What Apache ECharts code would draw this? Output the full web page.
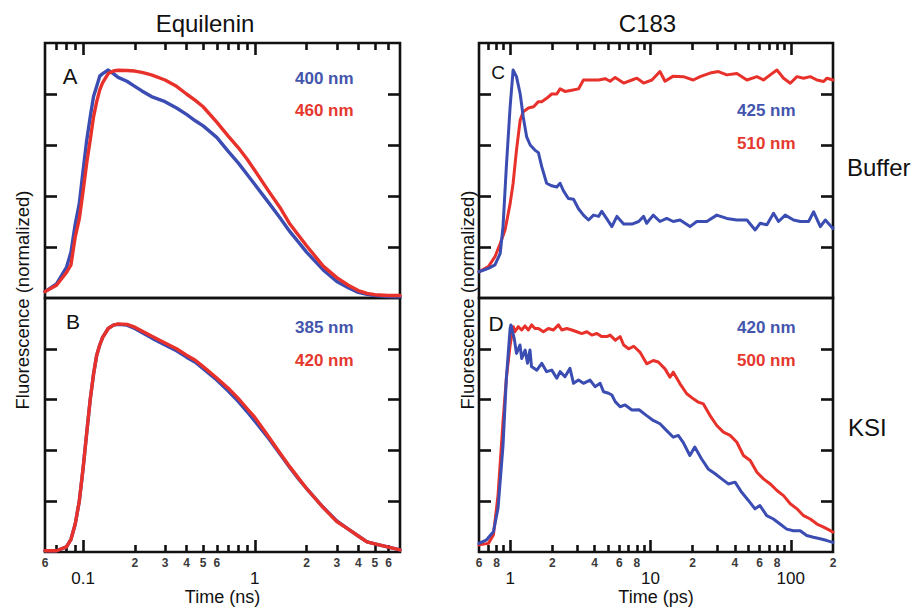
<!DOCTYPE html>
<html>
<head>
<meta charset="utf-8">
<script src="https://cdn.jsdelivr.net/npm/echarts@6/dist/echarts.min.js"></script>
<style>
html,body{margin:0;padding:0;background:#ffffff;}
#chart{width:917px;height:608px;}
</style>
</head>
<body>
<div id="chart"></div>
<script>
// ---------------- DATA ----------------
// Panel A / B (Equilenin) common time grid, ns
const tLeft = [0.06, 0.07, 0.08, 0.085, 0.09, 0.095, 0.1, 0.105, 0.11, 0.115, 0.12, 0.125, 0.13, 0.14, 0.15, 0.16, 0.18, 0.2, 0.22, 0.25, 0.3, 0.35, 0.4, 0.45, 0.5, 0.6, 0.7, 0.8, 0.9, 1.0, 1.2, 1.4, 1.6, 1.8, 2.0, 2.5, 3.0, 3.5, 4.0, 4.5, 5, 6, 7];
// Panel A, Buffer
const a400 = [0.025, 0.055, 0.12, 0.18, 0.29, 0.37, 0.50, 0.62, 0.71, 0.79, 0.83, 0.87, 0.88, 0.894, 0.88, 0.865, 0.85, 0.83, 0.812, 0.79, 0.77, 0.745, 0.72, 0.695, 0.675, 0.63, 0.575, 0.53, 0.485, 0.445, 0.375, 0.315, 0.26, 0.218, 0.18, 0.11, 0.065, 0.04, 0.022, 0.014, 0.01, 0.006, 0.005];
const a460 = [0.025, 0.05, 0.10, 0.13, 0.24, 0.31, 0.42, 0.53, 0.62, 0.71, 0.77, 0.816, 0.845, 0.88, 0.89, 0.893, 0.892, 0.89, 0.885, 0.875, 0.855, 0.83, 0.80, 0.775, 0.75, 0.69, 0.635, 0.59, 0.545, 0.50, 0.42, 0.355, 0.29, 0.245, 0.205, 0.125, 0.08, 0.05, 0.029, 0.018, 0.013, 0.01, 0.01];
// Panel B, KSI
const b385 = [0.005, 0.005, 0.02, 0.05, 0.11, 0.2, 0.33, 0.47, 0.6, 0.7, 0.775, 0.815, 0.845, 0.88, 0.893, 0.896, 0.893, 0.88, 0.864, 0.843, 0.815, 0.792, 0.767, 0.747, 0.722, 0.677, 0.634, 0.593, 0.553, 0.515, 0.448, 0.386, 0.332, 0.287, 0.25, 0.176, 0.122, 0.09, 0.063, 0.04, 0.032, 0.019, 0.008];
const b420 = [0.005, 0.005, 0.02, 0.05, 0.11, 0.2, 0.33, 0.47, 0.6, 0.7, 0.775, 0.815, 0.845, 0.88, 0.893, 0.898, 0.896, 0.885, 0.87, 0.85, 0.823, 0.80, 0.775, 0.755, 0.73, 0.685, 0.645, 0.605, 0.565, 0.53, 0.455, 0.39, 0.335, 0.29, 0.25, 0.175, 0.12, 0.09, 0.063, 0.04, 0.032, 0.019, 0.008];

// Panel C (C183, Buffer), ps
const c425T = [0.6, 0.7, 0.78, 0.85, 0.89, 0.94, 1.0, 1.05, 1.11, 1.18, 1.24, 1.31, 1.39, 1.5, 1.59, 1.68, 1.82, 1.98, 2.15, 2.27, 2.4, 2.6, 2.83, 3.07, 3.33, 3.62, 3.93, 4.27, 4.5, 4.89, 5.31, 5.77, 6.44, 7.38, 8.24, 8.94, 9.4, 10.47, 11.69, 13.05, 14.55, 16.25, 19.15, 21.38, 25.2, 29.7, 35.0, 41.3, 48.7, 55.8, 60.5, 67.6, 75.4, 81.8, 91.3, 104.7, 116.9, 134, 145.6, 162.4, 176.4, 200];
const c425 = [0.103, 0.116, 0.13, 0.175, 0.28, 0.515, 0.75, 0.894, 0.868, 0.80, 0.71, 0.633, 0.60, 0.58, 0.57, 0.515, 0.45, 0.44, 0.435, 0.45, 0.42, 0.39, 0.387, 0.35, 0.325, 0.306, 0.325, 0.32, 0.34, 0.31, 0.28, 0.32, 0.29, 0.29, 0.30, 0.32, 0.293, 0.325, 0.30, 0.312, 0.30, 0.306, 0.28, 0.30, 0.30, 0.325, 0.312, 0.306, 0.306, 0.267, 0.293, 0.287, 0.332, 0.30, 0.325, 0.306, 0.30, 0.30, 0.338, 0.28, 0.306, 0.273];
const c510T = [0.6, 0.7, 0.78, 0.85, 0.92, 1.0, 1.05, 1.11, 1.18, 1.24, 1.35, 1.47, 1.59, 1.68, 1.82, 1.98, 2.15, 2.27, 2.46, 2.75, 3.07, 3.33, 3.82, 4.27, 4.76, 5.16, 5.61, 6.44, 7.38, 8.01, 8.94, 10.25, 11.69, 12.7, 14.55, 17.15, 20.2, 22.6, 26.6, 30.5, 35.0, 41.3, 48.7, 57.4, 63.9, 71.4, 79.7, 88.9, 99.2, 110.7, 123.4, 137.8, 153.8, 171.5, 181.4, 200];
const c510 = [0.103, 0.123, 0.162, 0.214, 0.267, 0.37, 0.45, 0.58, 0.698, 0.73, 0.745, 0.75, 0.77, 0.77, 0.783, 0.80, 0.80, 0.82, 0.81, 0.815, 0.82, 0.855, 0.855, 0.855, 0.86, 0.85, 0.865, 0.843, 0.855, 0.862, 0.843, 0.855, 0.888, 0.85, 0.87, 0.868, 0.855, 0.868, 0.882, 0.888, 0.875, 0.88, 0.855, 0.868, 0.855, 0.875, 0.894, 0.862, 0.842, 0.868, 0.862, 0.868, 0.855, 0.849, 0.862, 0.855];

// Panel D (C183, KSI), ps
const d420T = [0.6, 0.68, 0.76, 0.82, 0.89, 0.94, 1.0, 1.013, 1.07, 1.11, 1.175, 1.21, 1.28, 1.33, 1.385, 1.42, 1.55, 1.68, 1.82, 1.98, 2.15, 2.27, 2.46, 2.67, 2.83, 3.07, 3.33, 3.71, 4.03, 4.38, 4.63, 5.03, 5.31, 5.61, 6.08, 6.6, 7.38, 8.3, 9.4, 10.47, 11.69, 13.05, 14.55, 15.78, 17.1, 19.1, 20.7, 23.1, 25.8, 28.9, 32.2, 35.9, 40.1, 44.7, 49.9, 55.6, 60.3, 67.4, 75.2, 83.9, 93.6, 104.4, 116.6, 130, 145, 162, 181, 200];
const d420 = [0.034, 0.048, 0.08, 0.172, 0.42, 0.684, 0.88, 0.894, 0.84, 0.782, 0.815, 0.762, 0.795, 0.743, 0.795, 0.73, 0.716, 0.743, 0.71, 0.716, 0.684, 0.71, 0.69, 0.723, 0.664, 0.677, 0.664, 0.677, 0.651, 0.664, 0.631, 0.625, 0.618, 0.592, 0.572, 0.579, 0.559, 0.56, 0.537, 0.518, 0.505, 0.478, 0.452, 0.459, 0.432, 0.38, 0.413, 0.367, 0.327, 0.308, 0.288, 0.268, 0.275, 0.235, 0.203, 0.17, 0.183, 0.143, 0.13, 0.11, 0.09, 0.084, 0.084, 0.065, 0.058, 0.052, 0.045, 0.038];
const d500T = [0.6, 0.7, 0.76, 0.82, 0.89, 0.94, 1.0, 1.054, 1.082, 1.144, 1.208, 1.276, 1.349, 1.424, 1.504, 1.59, 1.726, 1.873, 2.035, 2.21, 2.333, 2.533, 2.75, 2.985, 3.24, 3.52, 3.82, 4.15, 4.5, 4.89, 5.16, 5.61, 6.08, 6.44, 6.99, 7.6, 8.41, 9.4, 10.47, 11.37, 12.7, 13.78, 14.55, 16.25, 18.14, 20.22, 21.95, 23.84, 26.6, 29.7, 33.1, 36.98, 41.3, 46.0, 51.4, 57.4, 63.9, 71.4, 79.7, 88.8, 99.2, 110.7, 123.4, 137.8, 153.8, 171.5, 191.5, 200];
const d500 = [0.028, 0.034, 0.067, 0.224, 0.513, 0.684, 0.815, 0.887, 0.867, 0.887, 0.874, 0.89, 0.874, 0.894, 0.88, 0.88, 0.867, 0.88, 0.874, 0.894, 0.874, 0.88, 0.874, 0.867, 0.86, 0.867, 0.854, 0.86, 0.848, 0.848, 0.854, 0.834, 0.848, 0.815, 0.80, 0.81, 0.787, 0.741, 0.754, 0.748, 0.721, 0.688, 0.708, 0.662, 0.623, 0.603, 0.59, 0.583, 0.537, 0.498, 0.472, 0.459, 0.432, 0.38, 0.36, 0.314, 0.288, 0.268, 0.242, 0.222, 0.19, 0.17, 0.143, 0.13, 0.11, 0.098, 0.084, 0.078];

// ---------------- TICKS & LABELS ----------------
const leftRange = [0.06, 7];
const rightRange = [0.6, 200];
const leftMajorTicks = [0.1, 1];
const leftMajorLabels = ['0.1', '1'];
const leftMinorTicks = [0.07, 0.08, 0.09, 0.2, 0.3, 0.4, 0.5, 0.6, 0.7, 0.8, 0.9, 2, 3, 4, 5, 6];
const leftMinorLabelValues = [0.06, 0.2, 0.3, 0.4, 0.5, 0.6, 2, 3, 4, 5, 6];
const leftMinorLabels = ['6', '2', '3', '4', '5', '6', '2', '3', '4', '5', '6'];
const rightMajorTicks = [1, 10, 100];
const rightMajorLabels = ['1', '10', '100'];
const rightMinorTicks = [0.7, 0.8, 0.9, 2, 3, 4, 5, 6, 7, 8, 9, 20, 30, 40, 50, 60, 70, 80, 90];
const rightMinorLabelValues = [0.6, 0.8, 2, 4, 6, 8, 20, 40, 60, 80, 200];
const rightMinorLabels = ['6', '8', '2', '4', '6', '8', '2', '4', '6', '8', '2'];
const yTicks = [0.2, 0.4, 0.6, 0.8];

// ---------------- STYLE ----------------
const BLUE = '#3b4db2';
const RED = '#e8312a';
const BLUE_TXT = '#4455ad';
const RED_TXT = '#e5382e';
const INK = '#111111';
const FONT = '"Liberation Sans", Arial, Helvetica, sans-serif';

function lookup(vals, texts) {
  return function (v) {
    for (let i = 0; i < vals.length; i++) {
      if (Math.abs(v - vals[i]) <= Math.abs(vals[i]) * 1e-6) return texts[i];
    }
    return '';
  };
}
function pairs(ts, vs) { return ts.map((t, i) => [t, vs[i]]); }

const grids = [
  { left: 45, top: 43, width: 355, height: 255 },   // A
  { left: 45, top: 298, width: 355, height: 254 },  // B
  { left: 479, top: 43, width: 354, height: 255 },  // C
  { left: 479, top: 298, width: 354, height: 254 }  // D
].map(g => Object.assign(g, { show: true, borderColor: INK, borderWidth: 2.6, backgroundColor: 'transparent', containLabel: false, outerBoundsMode: 'none' }));

function xAxisPair(gi, range, pos, majT, majVals, majLbl, minT, minVals, minLbl, name) {
  const base = {
    type: 'log', logBase: 10, gridIndex: gi, min: range[0], max: range[1], position: pos,
    axisLine: { show: false, onZero: false },
    splitLine: { show: false }, minorTick: { show: false }, minorSplitLine: { show: false }
  };
  const showLbl = pos === 'bottom';
  const major = Object.assign({}, base, {
    axisTick: { show: true, inside: true, length: 12, customValues: majT, lineStyle: { color: INK, width: 2.6 } },
    axisLabel: showLbl ? {
      show: true, customValues: majVals, formatter: lookup(majVals, majLbl), margin: 18,
      fontSize: 17, color: INK, fontFamily: FONT
    } : { show: false }
  });
  if (name) {
    Object.assign(major, {
      name: name, nameLocation: 'middle', nameGap: 33,
      nameTextStyle: { fontSize: 18, color: INK, fontFamily: FONT, verticalAlign: 'top' }
    });
  }
  const minor = Object.assign({}, base, {
    axisTick: { show: true, inside: true, length: 7, customValues: minT, lineStyle: { color: INK, width: 2.6 } },
    axisLabel: showLbl ? {
      show: true, customValues: minVals, formatter: lookup(minVals, minLbl), margin: 5,
      fontSize: 12, fontWeight: 'bold', color: '#3a3a3a', fontFamily: FONT
    } : { show: false }
  });
  return [major, minor];
}

const xAxes = [].concat(
  xAxisPair(0, leftRange, 'top', leftMajorTicks, null, null, leftMinorTicks, null, null, null),
  xAxisPair(1, leftRange, 'bottom', leftMajorTicks, leftMajorTicks, leftMajorLabels, leftMinorTicks, leftMinorLabelValues, leftMinorLabels, 'Time (ns)'),
  xAxisPair(2, rightRange, 'top', rightMajorTicks, null, null, rightMinorTicks, null, null, null),
  xAxisPair(3, rightRange, 'bottom', rightMajorTicks, rightMajorTicks, rightMajorLabels, rightMinorTicks, rightMinorLabelValues, rightMinorLabels, 'Time (ps)')
);

const yAxes = [];
for (let gi = 0; gi < 4; gi++) {
  ['left', 'right'].forEach(pos => {
    yAxes.push({
      type: 'value', gridIndex: gi, min: 0, max: 1, position: pos,
      axisLine: { show: false, onZero: false },
      axisTick: { show: true, inside: true, length: 12, customValues: yTicks, lineStyle: { color: INK, width: 2.6 } },
      axisLabel: { show: false }, splitLine: { show: false }
    });
  });
}

function line(name, gi, data, color, width) {
  return {
    name: name, type: 'line', xAxisIndex: gi * 2, yAxisIndex: gi * 2, data: data,
    showSymbol: false, symbol: 'none', smooth: false, silent: true,
    lineStyle: { color: color, width: width, join: 'round', cap: 'round' }, itemStyle: { color: color }
  };
}

const series = [
  line('400 nm', 0, pairs(tLeft, a400), BLUE, 3.4),
  line('460 nm', 0, pairs(tLeft, a460), RED, 3.4),
  line('385 nm', 1, pairs(tLeft, b385), BLUE, 3.4),
  line('420 nm', 1, pairs(tLeft, b420), RED, 3.4),
  line('510 nm', 2, pairs(c510T, c510), RED, 3),
  line('425 nm', 2, pairs(c425T, c425), BLUE, 3),
  line('500 nm', 3, pairs(d500T, d500), RED, 3),
  line('420 nm', 3, pairs(d420T, d420), BLUE, 3)
];

function txt(text, x, y, size, opts) {
  opts = opts || {};
  return {
    type: 'text', x: x, y: y, rotation: opts.rotation || 0, silent: true, z: 10,
    style: {
      text: text, fontSize: size, fontFamily: FONT, fontWeight: opts.weight || 'normal',
      fill: opts.color || INK, align: opts.align || 'center', verticalAlign: 'middle'
    }
  };
}

const graphics = [
  txt('Equilenin', 205, 23.5, 24),
  txt('C183', 647.5, 23.5, 24),
  txt('Buffer', 847, 167, 24, { align: 'left' }),
  txt('KSI', 848, 427, 24, { align: 'left' }),
  txt('A', 70, 76, 22),
  txt('B', 73, 321, 21),
  txt('C', 498, 72, 19),
  txt('D', 496, 323, 21),
  txt('400 nm', 295, 78.5, 17, { align: 'left', weight: 'bold', color: BLUE_TXT }),
  txt('460 nm', 295, 110.5, 17, { align: 'left', weight: 'bold', color: RED_TXT }),
  txt('385 nm', 295, 327, 17, { align: 'left', weight: 'bold', color: BLUE_TXT }),
  txt('420 nm', 295, 360, 17, { align: 'left', weight: 'bold', color: RED_TXT }),
  txt('425 nm', 737, 110, 17, { align: 'left', weight: 'bold', color: BLUE_TXT }),
  txt('510 nm', 737, 143.5, 17, { align: 'left', weight: 'bold', color: RED_TXT }),
  txt('420 nm', 737, 327, 17, { align: 'left', weight: 'bold', color: BLUE_TXT }),
  txt('500 nm', 737, 360, 17, { align: 'left', weight: 'bold', color: RED_TXT }),
  txt('Fluorescence (normalized)', 22.5, 300, 18.5, { rotation: Math.PI / 2 }),
  txt('Fluorescence (normalized)', 467, 300, 18.5, { rotation: Math.PI / 2 })
];

const chart = echarts.init(document.getElementById('chart'), null, { renderer: 'svg', width: 917, height: 608 });
chart.setOption({
  backgroundColor: '#ffffff',
  animation: false,
  textStyle: { fontFamily: FONT },
  grid: grids,
  xAxis: xAxes,
  yAxis: yAxes,
  series: series,
  graphic: graphics
});
</script>
</body>
</html>
